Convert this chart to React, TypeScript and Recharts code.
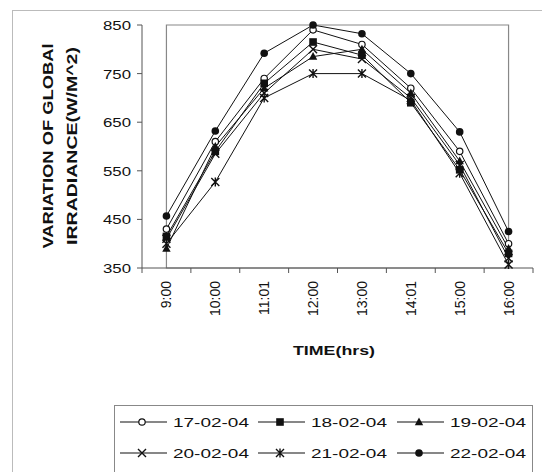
import { Line, LineChart, ReferenceArea, XAxis, YAxis } from 'recharts'

const TIMES = ['9:00', '10:00', '11:01', '12:00', '13:00', '14:01', '15:00', '16:00']
const Y_TICKS = [350, 450, 550, 650, 750, 850]

const S17 = [430, 610, 740, 840, 810, 720, 590, 400]
const S18 = [415, 590, 730, 815, 788, 690, 552, 380]
const S19 = [390, 600, 720, 785, 800, 710, 570, 390]
const S20 = [410, 585, 710, 800, 780, 700, 562, 370]
const S21 = [400, 527, 700, 750, 750, 695, 545, 357]
const S22 = [457, 632, 792, 850, 832, 750, 630, 425]

const SERIES = [
  { key: 's17', name: '17-02-04', values: S17, marker: 'circleOpen' },
  { key: 's18', name: '18-02-04', values: S18, marker: 'square' },
  { key: 's19', name: '19-02-04', values: S19, marker: 'triangle' },
  { key: 's20', name: '20-02-04', values: S20, marker: 'x' },
  { key: 's21', name: '21-02-04', values: S21, marker: 'star' },
  { key: 's22', name: '22-02-04', values: S22, marker: 'circle' },
]

const data = TIMES.map((t, i) => {
  const row: Record<string, string | number> = { time: t }
  for (const s of SERIES) row[s.key] = s.values[i]
  return row
})

const FONT = '"Liberation Sans", Arial, sans-serif'
const INK = '#111'
const PLOT_LEFT = 142
const PLOT_RIGHT = 533
const PLOT_BOTTOM = 268
const BAND = (PLOT_RIGHT - PLOT_LEFT) / TIMES.length

function Marker({ kind, cx, cy }: { kind: string; cx: number; cy: number }) {
  switch (kind) {
    case 'circleOpen':
      return <circle cx={cx} cy={cy} r={3.2} fill="#fff" stroke={INK} strokeWidth={1.2} />
    case 'square':
      return <rect x={cx - 3.8} y={cy - 3.8} width={7.6} height={7.6} fill={INK} />
    case 'triangle':
      return <path d={`M${cx},${cy - 4.5} L${cx + 4.2},${cy + 3.2} L${cx - 4.2},${cy + 3.2} Z`} fill={INK} />
    case 'x':
      return (
        <path d={`M${cx - 4},${cy - 4} L${cx + 4},${cy + 4} M${cx - 4},${cy + 4} L${cx + 4},${cy - 4}`} stroke={INK} strokeWidth={1.4} />
      )
    case 'star':
      return (
        <path
          d={`M${cx - 4},${cy - 4} L${cx + 4},${cy + 4} M${cx - 4},${cy + 4} L${cx + 4},${cy - 4} M${cx},${cy - 4.5} L${cx},${cy + 4.5}`}
          stroke={INK}
          strokeWidth={1.4}
        />
      )
    default:
      return <circle cx={cx} cy={cy} r={3.8} fill={INK} />
  }
}

function dotFor(kind: string) {
  return (p: any) => <Marker key={`${kind}-${p.index}`} kind={kind} cx={p.cx} cy={p.cy} />
}

// Excel-style: tick marks sit between categories, labels at the category centres
function TimeTick(p: any) {
  const { x, y, payload } = p
  const last = payload.value === TIMES[TIMES.length - 1]
  return (
    <g>
      <line x1={x - BAND / 2} x2={x - BAND / 2} y1={PLOT_BOTTOM} y2={PLOT_BOTTOM + 5} stroke="#555" />
      {last && <line x1={x + BAND / 2} x2={x + BAND / 2} y1={PLOT_BOTTOM} y2={PLOT_BOTTOM + 5} stroke="#555" />}
      <text
        transform={`translate(${x + 5},${y + 5}) rotate(-90)`}
        textAnchor="end"
        fontSize={14}
        fontFamily={FONT}
        fill={INK}
      >
        {payload.value}
      </text>
    </g>
  )
}

function ValueTick(p: any) {
  const { x, y, payload } = p
  return (
    <text x={x - 4} y={y + 5} textAnchor="end" fontSize={13} fontFamily={FONT} fill={INK} textLength={28} lengthAdjust="spacingAndGlyphs">
      {payload.value}
    </text>
  )
}

function Legend() {
  const cols = [120, 258, 397]
  return (
    <svg width={542} height={472} style={{ position: 'absolute', left: 0, top: 0, pointerEvents: 'none' }}>
      <rect x={114.5} y={405.5} width={418} height={80} fill="none" stroke="#888" />
      {SERIES.map((s, i) => {
        const x0 = cols[i % 3]
        const y = i < 3 ? 422 : 453
        return (
          <g key={s.key}>
            <line x1={x0} x2={x0 + 47} y1={y} y2={y} stroke={INK} strokeWidth={1.2} />
            <Marker kind={s.marker} cx={x0 + 22} cy={y} />
            <text x={x0 + 53} y={y + 5} fontSize={13} fontFamily={FONT} fill={INK} textLength={76} lengthAdjust="spacingAndGlyphs">
              {s.name}
            </text>
          </g>
        )
      })}
    </svg>
  )
}

export default function App() {
  return (
    <div style={{ position: 'absolute', left: 0, top: 0, width: 542, height: 472, background: '#fff', overflow: 'hidden' }}>
      <div style={{ position: 'absolute', left: 12, top: 10, width: 560, height: 500, border: '1px solid #bbb' }} />
      <LineChart width={542} height={472} data={data} margin={{ top: 25, right: 9, bottom: 104, left: 0 }}>
        <ReferenceArea y1={350} y2={850} fill="none" stroke="#888" strokeWidth={1.2} ifOverflow="visible" />
        <XAxis
          dataKey="time"
          height={100}
          padding={{ left: BAND / 2, right: BAND / 2 }}
          axisLine={{ stroke: '#555' }}
          tickLine={false}
          interval={0}
          tick={TimeTick}
          label={{
            content: () => (
              <text x={334} y={355} textAnchor="middle" fontSize={13} fontWeight="bold" fontFamily={FONT} fill={INK} textLength={82} lengthAdjust="spacingAndGlyphs">
                TIME(hrs)
              </text>
            ),
          }}
        />
        <YAxis
          width={142}
          domain={[350, 850]}
          ticks={Y_TICKS}
          axisLine={{ stroke: '#555' }}
          tickLine={{ stroke: '#555' }}
          tickSize={5}
          tick={ValueTick}
          label={{
            content: () => (
              <g>
                <text transform="translate(53,146) rotate(-90)" textAnchor="middle" fontSize={15} fontWeight="bold" fontFamily={FONT} fill={INK} textLength={205} lengthAdjust="spacingAndGlyphs">
                  VARIATION OF GLOBAl
                </text>
                <text transform="translate(77,146) rotate(-90)" textAnchor="middle" fontSize={15} fontWeight="bold" fontFamily={FONT} fill={INK} textLength={198} lengthAdjust="spacingAndGlyphs">
                  IRRADIANCE(W/M^2)
                </text>
              </g>
            ),
          }}
        />
        {SERIES.map((s) => (
          <Line
            key={s.key}
            type="linear"
            dataKey={s.key}
            name={s.name}
            stroke={INK}
            strokeWidth={1}
            dot={dotFor(s.marker)}
            activeDot={false}
            isAnimationActive={false}
          />
        ))}
      </LineChart>
      <Legend />
    </div>
  )
}
